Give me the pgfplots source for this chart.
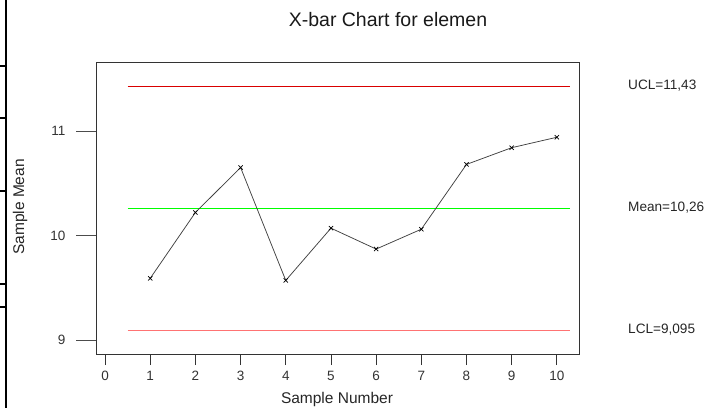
\documentclass[border=0pt]{standalone}
\usepackage{pgfplots}
\pgfplotsset{compat=1.18}
\usepackage{fontspec}
\setmainfont{Liberation Sans}
\begin{document}
\begin{tikzpicture}
\useasboundingbox (0,0) rectangle (720bp,408bp);
% screenshot border remnants on the left
\draw[line width=1.2bp] (6bp,0) -- (6bp,408bp);
\foreach \yy in {66,118,191,284,307} \draw[line width=1.2bp] (0,408bp-\yy bp) -- (6bp,408bp-\yy bp);
\begin{axis}[
  at={(96bp,54bp)}, anchor=south west,
  width=483bp, height=292bp, scale only axis,
  xmin=-0.2, xmax=10.49, ymin=8.866, ymax=11.66,
  xtick=\empty, ytick={9,10,11}, ytick pos=left,
  tick align=outside, major tick length=20bp,
  ytick style={black!70, line width=0.8bp},
  axis line style={black!80, line width=0.8bp},
  yticklabel style={font=\fontsize{13.5bp}{15bp}\selectfont, text=black!80, xshift=-7bp},
  /pgf/number format/assume math mode=true,
  clip=false,
]
\addplot[red!85!black, line width=0.8bp, forget plot] coordinates {(0.5,11.43) (10.3,11.43)};
\addplot[green, line width=0.9bp, forget plot] coordinates {(0.5,10.26) (10.3,10.26)};
\addplot[red!55, line width=0.9bp, forget plot] coordinates {(0.5,9.095) (10.3,9.095)};
\addplot[black!75, line width=0.75bp, mark=x, mark size=3bp, mark options={black, line width=0.7bp}] coordinates {
(1,9.59) (2,10.22) (3,10.65) (4,9.57) (5,10.07) (6,9.87) (7,10.06) (8,10.68) (9,10.84) (10,10.94)};
\end{axis}
\begin{axis}[
  at={(96bp,54bp)}, anchor=south west,
  width=483bp, height=292bp, scale only axis,
  xmin=-0.2, xmax=10.49, ymin=8.866, ymax=11.66,
  xtick={0,...,10}, ytick=\empty, xtick pos=bottom,
  tick align=outside, major tick length=11bp,
  xtick style={black!80, line width=0.8bp},
  axis line style={draw=none},
  xticklabel style={font=\fontsize{13.5bp}{15bp}\selectfont, text=black!80, yshift=-3bp},
  /pgf/number format/assume math mode=true,
]
\end{axis}
\node[font=\fontsize{19.5bp}{22bp}\selectfont, text=black!90] at (388bp,388bp) {X-bar Chart for elemen};
\node[font=\fontsize{15.5bp}{18bp}\selectfont, text=black!85, rotate=90] at (20bp,201bp) {Sample Mean};
\node[font=\fontsize{15.5bp}{18bp}\selectfont, text=black!85] at (337bp,9bp) {Sample Number};
\node[font=\fontsize{13.6bp}{16bp}\selectfont, text=black!85, anchor=west, inner sep=0] at (628bp,322bp) {UCL=11,43};
\node[font=\fontsize{13.6bp}{16bp}\selectfont, text=black!85, anchor=west, inner sep=0] at (628bp,200bp) {Mean=10,26};
\node[font=\fontsize{13.6bp}{16bp}\selectfont, text=black!85, anchor=west, inner sep=0] at (628bp,78bp) {LCL=9,095};
\end{tikzpicture}
\end{document}
